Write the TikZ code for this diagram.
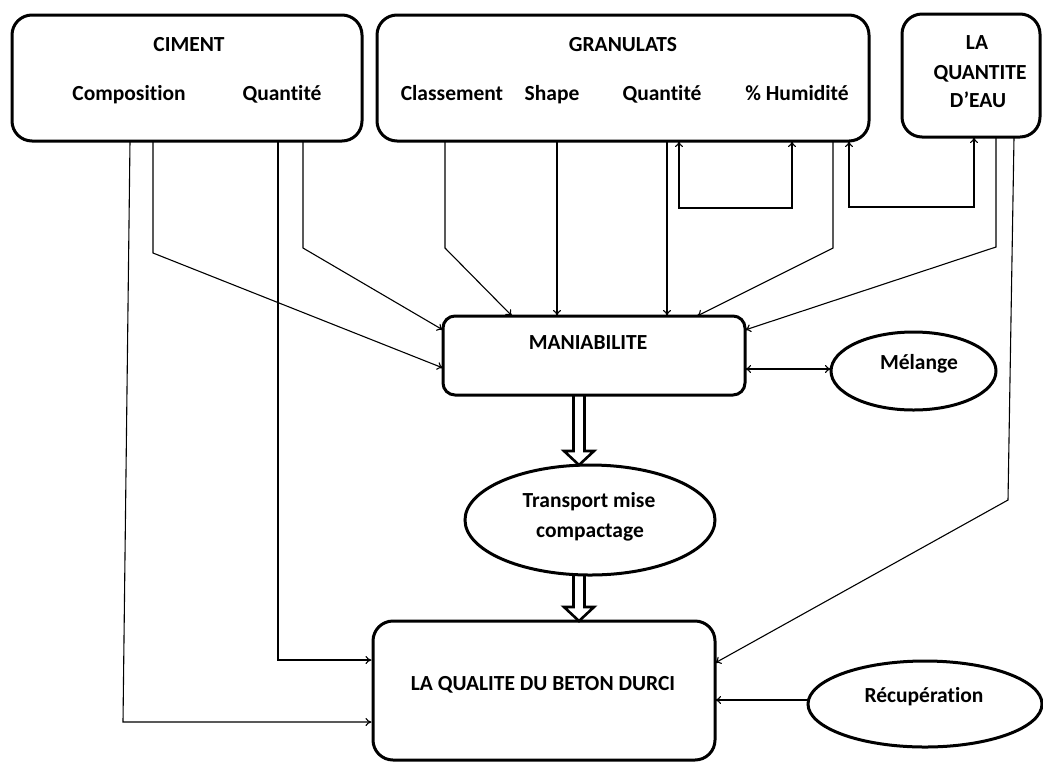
\documentclass[tikz,border=0pt]{standalone}
\usepackage{fontspec}
\setmainfont{Carlito}[Ligatures=NoCommon]
\usetikzlibrary{arrows.meta,shapes.geometric,calc}
\newcommand\hollowarrow[2]{%
  \draw[bigarrow] ($(#1)+(-5.5,0)$) -- ($(#2)+(-5.5,-14)$) -- ($(#2)+(-15,-14)$) -- (#2)
    -- ($(#2)+(15,-14)$) -- ($(#2)+(5.5,-14)$) -- ($(#1)+(5.5,0)$);}
\begin{document}
\begin{tikzpicture}[x=1pt,y=-1pt,
  rbox/.style={draw, line width=3pt, rounded corners=20pt, inner sep=0pt},
  oval/.style={draw, ellipse, line width=3pt, inner sep=0pt},
  lbl/.style={font=\fontsize{21.5}{29}\selectfont\bfseries, inner sep=0pt, anchor=base},
  conn/.style={line width=1.1pt, -{To[length=6pt,width=8pt]}},
  dconn/.style={line width=1.1pt, {To[length=6pt,width=8pt]}-{To[length=6pt,width=8pt]}},
  bigarrow/.style={line width=2.6pt, line join=miter}]
\useasboundingbox (0,0) rectangle (1043,764);
\fill[white] (0,0) rectangle (1043,764);

% boxes
\node[rbox, minimum width=350pt, minimum height=126pt] (ciment) at (187,78) {};
\node[rbox, minimum width=492pt, minimum height=126pt] (granulats) at (623,78) {};
\node[rbox, minimum width=138pt, minimum height=123pt] (eau) at (971,75.5) {};
\node[rbox, rounded corners=12pt, minimum width=302pt, minimum height=79pt] (mania) at (594,355.5) {};
\node[rbox, minimum width=342pt, minimum height=139pt] (qualite) at (544,690.5) {};
\node[oval, minimum width=165pt, minimum height=78pt] (melange) at (913.5,371) {};
\node[oval, minimum width=250pt, minimum height=110pt] (transport) at (590,520) {};
\node[oval, minimum width=234pt, minimum height=86pt] (recup) at (925,704) {};

% labels
\node[lbl] (tciment) at (189,51) {CIMENT};
\node[lbl] (tcompo) at (129,100) {Composition};
\node[lbl] (tcquant) at (282,100) {Quantité};
\node[lbl] (tgran) at (623,51) {GRANULATS};
\node[lbl] (tclass) at (452,100) {Classement};
\node[lbl] (tshape) at (552,100) {Shape};
\node[lbl] (tgquant) at (662,100) {Quantité};
\node[lbl] (thum) at (797,100) {\% Humidité};
\node[lbl] (teau1) at (977,49) {LA};
\node[lbl] (teau2) at (980,79) {QUANTITE};
\node[lbl] (teau3) at (978,107) {D’EAU};
\node[lbl] (tmania) at (588,349) {MANIABILITE};
\node[lbl] (tmel) at (919,369) {Mélange};
\node[lbl] (ttr1) at (589,507) {Transport mise};
\node[lbl] (ttr2) at (590,537) {compactage};
\node[lbl] (tqual) at (543,690) {LA QUALITE DU BETON DURCI};
\node[lbl] (trec) at (924,702) {Récupération};

% coordinates of bends
\coordinate (a1) at (130,141); \coordinate (a2) at (123,722);
\coordinate (b1) at (153,141); \coordinate (b2) at (153,253); \coordinate (b3) at (443,368);
\coordinate (c1) at (278,141); \coordinate (c2) at (278,660);
\coordinate (d1) at (303,141); \coordinate (d2) at (303,248); \coordinate (d3) at (443,330);
\coordinate (e1) at (445,141); \coordinate (e2) at (445,248); \coordinate (e3) at (512,316);
\coordinate (f1) at (557,141); \coordinate (f2) at (557,316);
\coordinate (g1) at (667,141); \coordinate (g2) at (667,316);
\coordinate (h1) at (679,141); \coordinate (h2) at (679,208); \coordinate (h3) at (792,208); \coordinate (h4) at (792,141);
\coordinate (i1) at (833,141); \coordinate (i2) at (833,248); \coordinate (i3) at (697,316);
\coordinate (j1) at (849,141); \coordinate (j2) at (849,207); \coordinate (j3) at (974,207); \coordinate (j4) at (974,137);
\coordinate (k1) at (996,137); \coordinate (k2) at (996,247); \coordinate (k3) at (745,330);
\coordinate (l1) at (1014,137); \coordinate (l2) at (1008,500); \coordinate (l3) at (715,663);
\coordinate (m1) at (745,369); \coordinate (m2) at (831,369);
\coordinate (n1) at (809,700); \coordinate (n2) at (715,700);
\coordinate (t0) at (579,395); \coordinate (t1) at (579,465);
\coordinate (t2) at (579,575); \coordinate (t3) at (579,621);

% connectors
\draw[conn] (a1) -- (a2) -- (a2 -| qualite.west);
\draw[conn] (b1) -- (b2) -- (b3);
\draw[conn] (c1) -- (c2) -- (c2 -| qualite.west);
\draw[conn] (d1) -- (d2) -- (d3);
\draw[conn] (e1) -- (e2) -- (e3);
\draw[conn] (f1) -- (f2);
\draw[conn] (g1) -- (g2);
\draw[dconn] (h1) -- (h2) -- (h3) -- (h4);
\draw[conn] (i1) -- (i2) -- (i3);
\draw[dconn] (j1) -- (j2) -- (j3) -- (j4);
\draw[conn] (k1) -- (k2) -- (k3);
\draw[conn] (l1) -- (l2) -- (l3);
\draw[dconn] (m1) -- (m2);
\draw[conn] (n1) -- (n2);

\hollowarrow{t0}{t1}
\hollowarrow{t2}{t3}
\end{tikzpicture}
\end{document}
